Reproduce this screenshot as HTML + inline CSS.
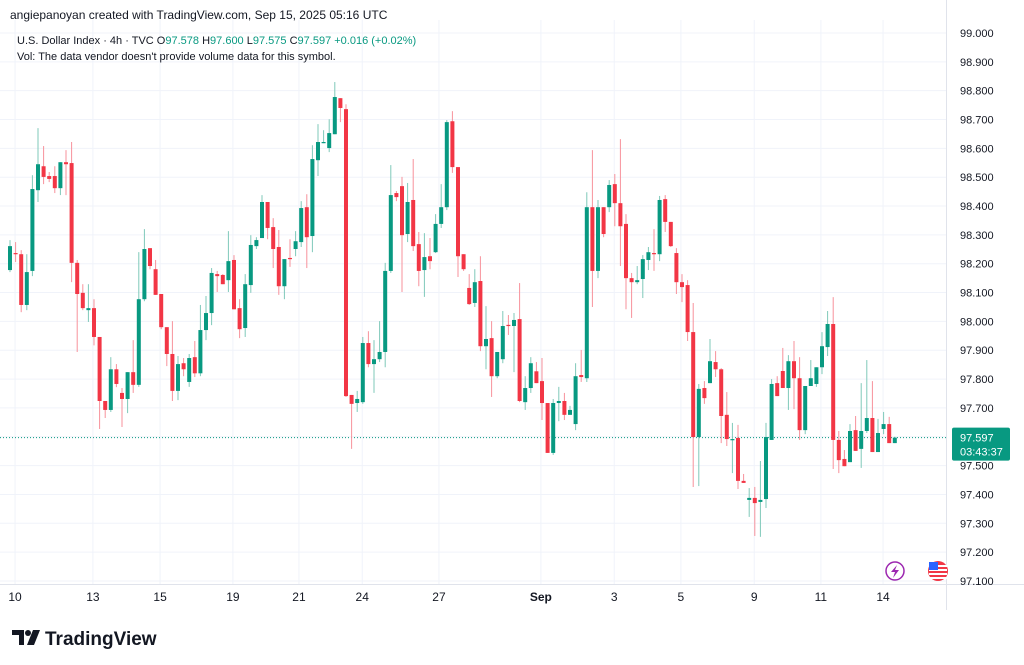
<!DOCTYPE html>
<html><head><meta charset="utf-8"><style>
body{margin:0;background:#fff;font-family:"Liberation Sans",sans-serif;}
#wrap{position:relative;width:1024px;height:665px;overflow:hidden;background:#fff;}
svg text{font-family:"Liberation Sans",sans-serif;}
</style></head><body>
<div id="wrap">
<svg id="chart" width="1024" height="665"></svg>
</div>
<script>
const opens=[98.178,98.237,98.233,98.057,98.175,98.455,98.538,98.504,98.504,98.462,98.552,98.549,98.203,98.099,98.039,98.046,97.946,97.724,97.693,97.834,97.752,97.731,97.824,97.780,98.077,98.254,98.181,98.095,97.980,97.887,97.759,97.855,97.790,97.876,97.820,97.970,98.029,98.164,98.161,98.143,98.213,98.046,97.977,98.126,98.261,98.289,98.414,98.327,98.258,98.122,98.220,98.251,98.275,98.396,98.296,98.559,98.618,98.601,98.649,98.774,98.736,97.745,97.717,97.720,97.925,97.852,97.869,97.894,98.175,98.445,98.469,98.303,98.421,98.268,98.178,98.226,98.240,98.338,98.396,98.694,98.535,98.233,98.116,98.064,98.140,97.914,97.942,97.810,97.869,97.988,97.984,98.008,97.720,97.769,97.827,97.793,97.717,97.544,97.717,97.724,97.676,97.644,97.814,97.803,98.396,98.175,98.396,98.396,98.476,98.410,98.338,98.150,98.136,98.147,98.213,98.237,98.233,98.424,98.345,98.237,98.136,98.126,97.963,97.599,97.769,97.786,97.859,97.834,97.676,97.589,97.596,97.447,97.381,97.388,97.374,97.384,97.589,97.786,97.828,97.769,97.862,97.803,97.623,97.776,97.783,97.841,97.911,97.991,97.589,97.523,97.512,97.623,97.558,97.620,97.665,97.547,97.627,97.644,97.578];
const highs=[98.282,98.275,98.247,98.233,98.507,98.670,98.608,98.518,98.538,98.552,98.594,98.622,98.213,98.129,98.129,98.077,97.946,97.724,97.876,97.852,97.769,97.824,97.935,98.240,98.320,98.254,98.213,98.095,97.980,98.001,97.880,97.873,97.887,97.932,98.057,98.088,98.185,98.175,98.164,98.313,98.230,98.077,98.164,98.299,98.292,98.438,98.414,98.358,98.317,98.216,98.285,98.313,98.417,98.441,98.611,98.684,98.663,98.701,98.830,98.774,98.753,97.745,97.759,97.946,97.966,97.935,98.001,98.203,98.542,98.452,98.501,98.480,98.563,98.310,98.306,98.289,98.372,98.476,98.698,98.729,98.535,98.233,98.164,98.181,98.226,98.053,98.001,97.894,98.036,98.022,98.029,98.133,97.810,97.876,97.859,97.873,97.717,97.731,97.773,97.752,97.707,97.855,97.901,98.448,98.594,98.421,98.396,98.490,98.511,98.632,98.372,98.168,98.192,98.230,98.258,98.320,98.435,98.438,98.345,98.254,98.164,98.143,98.064,97.783,97.793,97.939,97.897,97.838,97.755,97.648,97.641,97.471,97.422,97.426,97.516,97.648,97.800,97.810,97.908,97.883,97.932,97.876,97.776,97.866,97.841,97.963,98.036,98.084,97.620,97.554,97.644,97.672,97.786,97.866,97.793,97.662,97.686,97.669,97.600];
const lows=[98.171,98.206,98.032,98.039,98.157,98.414,98.476,98.483,98.445,98.438,98.438,98.136,97.894,98.039,97.998,97.917,97.627,97.665,97.686,97.772,97.634,97.682,97.752,97.773,98.070,98.181,98.092,97.973,97.845,97.724,97.727,97.810,97.773,97.807,97.810,97.935,97.987,98.102,98.129,98.102,98.042,97.942,97.946,98.099,98.251,98.289,98.285,98.185,98.092,98.077,98.189,98.226,98.258,98.185,98.240,98.504,98.618,98.587,98.649,98.691,97.738,97.558,97.686,97.714,97.841,97.752,97.859,97.841,98.168,98.417,98.102,98.275,98.244,98.122,98.085,98.181,98.237,98.324,98.386,98.515,98.154,98.175,98.057,98.050,97.897,97.834,97.738,97.803,97.855,97.953,97.824,97.720,97.693,97.752,97.786,97.658,97.544,97.537,97.654,97.658,97.676,97.623,97.790,97.790,98.050,98.150,98.292,98.379,98.330,98.192,98.042,98.012,98.129,98.081,98.178,98.175,98.209,98.310,98.258,98.095,98.067,97.932,97.426,97.429,97.714,97.786,97.807,97.578,97.568,97.474,97.419,97.440,97.322,97.256,97.253,97.353,97.589,97.741,97.769,97.693,97.696,97.589,97.609,97.776,97.773,97.817,97.880,97.488,97.474,97.498,97.512,97.551,97.492,97.613,97.547,97.547,97.609,97.578,97.578];
const closes=[98.261,98.233,98.057,98.171,98.459,98.545,98.501,98.494,98.462,98.552,98.545,98.203,98.095,98.046,98.046,97.946,97.724,97.693,97.834,97.783,97.731,97.824,97.780,98.077,98.251,98.192,98.092,97.980,97.887,97.759,97.852,97.834,97.873,97.820,97.970,98.029,98.168,98.157,98.129,98.209,98.042,97.973,98.129,98.265,98.282,98.414,98.324,98.251,98.122,98.216,98.216,98.278,98.393,98.292,98.563,98.622,98.622,98.653,98.778,98.740,97.741,97.714,97.731,97.925,97.852,97.869,97.894,98.175,98.438,98.431,98.299,98.414,98.261,98.175,98.223,98.209,98.338,98.396,98.691,98.535,98.226,98.181,98.060,98.136,97.914,97.939,97.810,97.894,97.984,97.984,98.005,97.724,97.769,97.855,97.786,97.717,97.544,97.717,97.724,97.676,97.693,97.810,97.807,98.396,98.175,98.396,98.303,98.473,98.410,98.330,98.150,98.136,98.143,98.216,98.240,98.233,98.421,98.345,98.261,98.136,98.119,97.963,97.599,97.766,97.734,97.862,97.834,97.672,97.592,97.592,97.447,97.440,97.388,97.370,97.381,97.599,97.783,97.741,97.769,97.862,97.803,97.623,97.776,97.803,97.841,97.914,97.991,97.589,97.519,97.498,97.620,97.551,97.620,97.665,97.547,97.613,97.644,97.578,97.597];
const priceTicks=["99.000","98.900","98.800","98.700","98.600","98.500","98.400","98.300","98.200","98.100","98.000","97.900","97.800","97.700","97.600","97.500","97.400","97.300","97.200","97.100"];
const dateLabels=["10","13","15","19","21","24","27","Sep","3","5","9","11","14"];
const dateIdx=[0.9,14.8,26.8,39.8,51.6,62.9,76.6,94.8,107.9,119.8,132.9,144.8,155.9];
const lastPrice=97.597;

const NS="http://www.w3.org/2000/svg";
const svg=document.getElementById('chart');
function xS(i){return 10+i*5.6;}
function yS(p){return 33+(99-p)*288.4;}
function mk(tag,attrs,parent){const e=document.createElementNS(NS,tag);for(const k in attrs)e.setAttribute(k,attrs[k]);(parent||svg).appendChild(e);return e;}

const grid=mk('g',{});


priceTicks.forEach(t=>{const y=yS(parseFloat(t));const l=mk('line',{x1:0,x2:946,y1:y,y2:y,stroke:'#f0f3fa','stroke-width':1},grid);

});
dateIdx.forEach(i=>{const x=xS(i);const l=mk('line',{x1:x,x2:x,y1:20,y2:584,stroke:'#f0f3fa','stroke-width':1},grid);

});

// axes
const axisR=mk('line',{x1:946.5,x2:946.5,y1:0,y2:610,stroke:'#e0e3eb'});


const axisB=mk('line',{x1:0,x2:1024,y1:584.5,y2:584.5,stroke:'#e0e3eb'});



const pax=mk('g',{});


priceTicks.forEach(t=>{const tx=mk('text',{x:960,y:yS(parseFloat(t))+4,'font-size':11,fill:'#131722'},pax);tx.textContent=t;

});

const tax=mk('g',{});


dateLabels.forEach((d,k)=>{const tx=mk('text',{x:xS(dateIdx[k]),y:601,'font-size':12,fill:'#131722','text-anchor':'middle','font-weight':d==='Sep'?'bold':'normal'},tax);tx.textContent=d;

});

// last price line
const ly=yS(lastPrice);
const lp=mk('line',{x1:0,x2:946,y1:ly,y2:ly,stroke:'#089981','stroke-width':1,'stroke-dasharray':'1,2'});



// candles
const cg=mk('g',{});


for(let i=0;i<opens.length;i++){
  const up=closes[i]>=opens[i];
  const col=up?'#089981':'#f23645';
  const wcol=up?'#7fc9ba':'#f7929b';
  const x=xS(i);
  const g=mk('g',{},cg);
  
  
  mk('line',{x1:x,x2:x,y1:yS(highs[i]),y2:yS(lows[i]),stroke:wcol,'stroke-width':1},g);
  const t=yS(Math.max(opens[i],closes[i])),b=yS(Math.min(opens[i],closes[i]));
  mk('rect',{x:x-2,y:t,width:4,height:Math.max(1.2,b-t),fill:col},g);
}

// last price label
const lab=mk('g',{});


mk('rect',{x:952,y:ly-10,width:58,height:33,rx:2,fill:'#089981'},lab);
const t1=mk('text',{x:960,y:ly+4,'font-size':11,fill:'#fff'},lab);t1.textContent=lastPrice.toFixed(3);
const t2=mk('text',{x:960,y:ly+18,'font-size':11,fill:'#fff'},lab);t2.textContent='03:43:37';

// header text
function txt(x,y,s,str,fill,name,weight){const e=mk('text',{x:x,y:y,'font-size':s,fill:fill||'#131722','font-weight':weight||'normal'});e.textContent=str;

return e;}
txt(10,19,12,'angiepanoyan created with TradingView.com, Sep 15, 2025 05:16 UTC','#131722','attribution-text');
const leg=mk('text',{x:17,y:44,'font-size':11,fill:'#131722'});


leg.innerHTML='U.S. Dollar Index · 4h · TVC  <tspan fill="#131722">O</tspan><tspan fill="#089981">97.578</tspan> <tspan>H</tspan><tspan fill="#089981">97.600</tspan> <tspan>L</tspan><tspan fill="#089981">97.575</tspan> <tspan>C</tspan><tspan fill="#089981">97.597 +0.016 (+0.02%)</tspan>';
txt(17,60,11,"Vol: The data vendor doesn't provide volume data for this symbol.",'#131722','volume-note');

// icons
const ic1=mk('g',{});


mk('circle',{cx:895,cy:571,r:9,fill:'#fff',stroke:'#9c27b0','stroke-width':1.5},ic1);
mk('path',{d:'M897 565 L891 572 L895 572 L893 578 L899 570 L895 570 Z',fill:'#9c27b0'},ic1);
const ic2=mk('g',{});


mk('circle',{cx:938,cy:571,r:10,fill:'#f23645'},ic2);
for(let k=0;k<4;k++)mk('rect',{x:929,y:565+k*4,width:18,height:2,fill:'#fff'},ic2);
mk('rect',{x:929,y:562,width:9,height:8,fill:'#2962ff'},ic2);

// footer logo
const logo=mk('g',{});


mk('path',{d:'M12 630 H24 V645 H19 V635 H12 Z',fill:'#131722'},logo);
mk('circle',{cx:28,cy:633,r:3,fill:'#131722'},logo);
mk('path',{d:'M33 630 H40 L34 645 H27 Z',fill:'#131722'},logo);
const lt=mk('text',{x:45,y:645,'font-size':19,'font-weight':'bold',fill:'#131722'},logo);lt.textContent='TradingView';
</script>
</body></html>
